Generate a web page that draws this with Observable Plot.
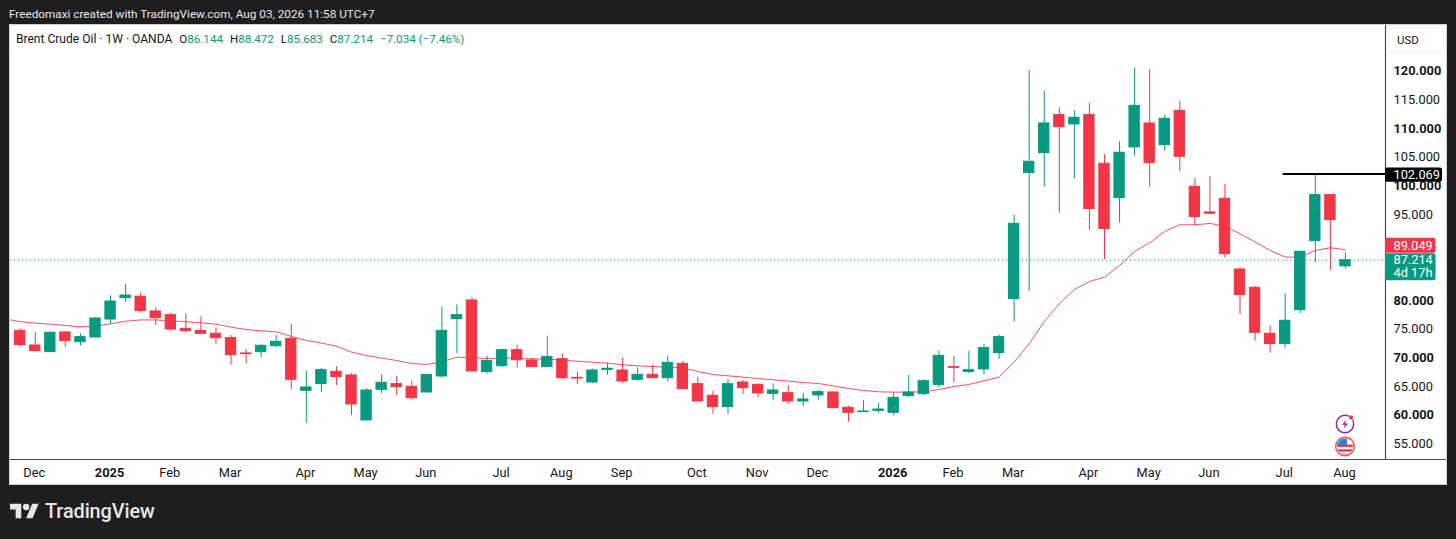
<!DOCTYPE html>
<html>
<head>
<meta charset="utf-8">
<script src="https://cdn.jsdelivr.net/npm/d3@7"></script>
<script src="https://cdn.jsdelivr.net/npm/@observablehq/plot@0.6"></script>
<style>
html,body{margin:0;padding:0;background:#1e1e1e;width:1456px;height:539px;overflow:hidden;font-family:Roboto,"Liberation Sans",sans-serif}
.abs{position:absolute;white-space:nowrap}
#panel{left:9px;top:24px;width:1436px;height:459px;background:#fff;border:1px solid #d0d0d0}
#chart{left:0;top:0}
#credit{left:9px;top:7px;color:#e8e8e8;font-size:11.75px;line-height:14px}
#legend{left:16px;top:32px;color:#131722;font-size:12.05px;line-height:14px}
#legend b{font-weight:400;color:#089981}
#legend span{margin-left:7px;font-size:11.6px}
#usdbox{left:1388px;top:28px;width:54px;height:23px;border:1px solid #f0f0f0;border-radius:4px}
#usd{left:1397px;top:33px;color:#131722;font-size:11.5px;line-height:14px}
#brand{left:45px;top:500px;color:#e6e6e6;font-size:19.9px;line-height:24px;font-weight:500;letter-spacing:-.1px}
svg.logo{position:absolute;left:10px;top:503px}
svg.icon{position:absolute;left:1331px;top:412px}
</style>
</head>
<body>
<div id="panel" class="abs"></div>
<div id="usdbox" class="abs"></div>
<div id="chart" class="abs"></div>
<div id="credit" class="abs">Freedomaxi created with TradingView.com, Aug 03, 2026 11:58 UTC+7</div>
<div id="legend" class="abs">Brent Crude Oil · 1W · OANDA<span>O<b>86.144</b></span><span>H<b>88.472</b></span><span>L<b>85.683</b></span><span>C<b>87.214</b></span><span><b>−7.034 (−7.46%)</b></span></div>
<div id="usd" class="abs">USD</div>
<svg class="logo" width="29" height="16" viewBox="0 4 36 18"><path fill="#e6e6e6" d="M14 22H7V11H0V4h14v18zM28 22h-8l7.5-18h8L28 22z"/><circle fill="#e6e6e6" cx="20" cy="8" r="4"/></svg>
<div id="brand" class="abs">TradingView</div>
<svg class="icon" width="28" height="48" viewBox="0 0 28 48">
  <circle cx="14" cy="12" r="8.7" fill="#fff" stroke="#8e24aa" stroke-width="1.4"/>
  <path d="M15.5 7.5L11 12.8h3l-1.5 4 4.6-5.4h-3z" fill="#8e24aa"/>
  <circle cx="20" cy="5.5" r="2.4" fill="#f23645" stroke="#fff" stroke-width=".6"/>
  <clipPath id="fl"><circle cx="14" cy="34.5" r="8"/></clipPath>
  <g clip-path="url(#fl)">
    <rect x="5" y="26" width="18" height="18" fill="#fff"/>
    <rect x="5" y="32.5" width="18" height="2.4" fill="#f23645"/>
    <rect x="5" y="37.3" width="18" height="2.4" fill="#f23645"/>
    <rect x="5" y="41.5" width="18" height="2.4" fill="#f23645"/>
    <rect x="5" y="26" width="11" height="7" fill="#2f7fd8"/>
  </g>
  <circle cx="14" cy="34.5" r="9.3" fill="none" stroke="#e2505c" stroke-width="1.4"/>
</svg>
<script>
// Weekly candles, first bar Monday 2024-11-25, last bar Monday 2026-08-03
const firstWeek = new Date(Date.UTC(2024, 10, 25));
const opens = [74.9,72.34,71.18,74.61,72.92,73.74,76.87,80.6,80.83,78.27,77.63,75.25,74.9,74.38,73.62,70.95,71.18,72.22,73.5,64.43,65.6,67.75,67.11,59.26,64.61,65.6,65.13,64.14,66.93,76.93,80.19,67.69,
  68.73,71.52,69.72,68.56,69.95,66.7,65.88,68.09,67.98,66.35,67.22,66.64,69.14,65.59,63.56,61.58,65.88,65.48,63.91,64.02,62.57,63.62,64.14,61.47,60.71,60.94,60.59,63.5,63.85,65.42,68.56,67.7,
  68.16,71.01,80.43,102.41,105.9,112.52,110.9,112.52,104.04,98.05,106.89,111.07,107.29,113.28,100.03,95.55,97.93,85.6,82.4,74.38,72.58,78.51,90.55,98.57,86.144];
const closes = [72.4,71.35,74.55,73.1,73.79,77.05,80.01,81.06,78.33,77.1,75.13,74.84,74.38,73.62,70.65,70.83,72.28,72.98,66.35,65.01,68.04,66.82,62.05,64.49,65.83,65.07,63.15,67.22,74.9,77.63,67.81,69.66,
  71.52,69.78,68.56,70.36,66.64,66.58,67.98,68.27,66.06,67.22,66.64,69.31,64.72,62.57,61.58,65.59,64.9,63.97,64.49,62.57,62.92,64.2,61.41,60.59,60.83,61.17,63.21,64.14,66.12,70.53,68.44,68.04,
  71.88,73.8,93.57,104.39,111.07,110.43,112.06,96.13,92.64,105.96,114.15,104.15,111.89,105.26,94.73,95.32,88.28,81.13,74.56,72.58,76.65,88.68,98.57,94.21,87.214];
const highs = [75.25,74.6,74.72,74.72,74.37,77.17,81,82.98,81.47,78.91,77.98,77.86,77.34,75.42,74.08,71.58,72.57,74.08,76,67.86,68.33,68.62,67.4,64.78,67.22,66.93,66.12,67.28,78.97,79.43,80.65,70.42,
  71.76,72.34,70.07,73.96,70.88,67.74,68.21,69.26,70.13,68.44,68.97,70.48,69.55,66.81,64.31,66.41,66.23,65.65,65.65,65.3,64.02,64.49,64.31,61.75,62.69,62.22,64.14,67.1,66.35,71.41,70.42,71.3,
  72.46,74.15,95.08,120.32,116.71,113.8,113.28,114.62,105.6,107.87,120.66,120.43,112.53,114.91,101.48,101.77,100.43,85.83,82.64,75.72,81.36,88.8,102.069,98.57,88.472];
const lows = [72.05,71.35,71.18,72.05,72.22,73.74,76.12,79.9,78.04,75.77,74.84,74.55,74.38,72.57,68.91,69.08,70.19,71.93,64.61,58.79,64.14,65.36,60.13,59.26,63.91,63.62,62.75,64.14,66.64,70.94,67.69,67.4,
  68.44,68.44,68.56,68.56,66.35,65.53,65.71,67.16,65.71,66.06,66.64,66,64.6,62.57,60.36,60.36,63.79,63.27,62.69,62.05,61.7,62.8,61.29,58.97,60.71,60.48,60.13,63.21,63.56,64.95,65.88,67.4,
  67.17,69.9,76.42,81.76,99.97,95.43,101.42,92.41,87.29,93.69,105.37,99.97,106.25,102.7,93.11,95.2,87.58,77.75,73.1,71.01,71.88,77.87,86.77,85.43,85.683];
// Moving average: one lead-in value at the left edge, then one per bar
const maLead = 76.8;
const maValues = [76.5,76.24,76.06,75.83,75.6,75.7,76.12,76.58,76.8,76.8,76.64,76.5,76.3,76.06,75.54,75.13,74.9,74.72,73.91,73.21,72.75,72.22,71.18,70.6,70.13,69.72,69.2,69.03,69.49,70.3,70.19,
  70.07,70.13,70.07,70,69.95,69.78,69.6,69.43,69.26,68.97,68.79,68.67,68.56,68.44,67.8,67.28,67.05,66.81,66.58,66.35,66.12,65.88,65.71,65.3,64.84,64.49,64.26,64.2,64.2,64.26,64.66,65.19,
  65.54,66.18,66.82,69.44,72.64,76.53,79.61,82.11,83.51,84.26,86.3,88.74,90.26,92.23,93.4,93.4,93.63,93.17,91.83,90.37,88.92,87.76,87.76,88.92,89.39,89.049];
const yTicksBold = [60,70,80,100,110,120];
const yTicksPlain = [55,65,75,95,105,115];
const xTickDates = ["2024-12-02","2025-01-06","2025-02-03","2025-03-03","2025-04-07","2025-05-05","2025-06-02","2025-07-07","2025-08-04","2025-09-01","2025-10-06","2025-11-03","2025-12-01","2026-01-05","2026-02-02","2026-03-02","2026-04-06","2026-05-04","2026-06-01","2026-07-06","2026-08-03"];
const xTickLabels = ["Dec","2025","Feb","Mar","Apr","May","Jun","Jul","Aug","Sep","Oct","Nov","Dec","2026","Feb","Mar","Apr","May","Jun","Jul","Aug"];
const lastClose = 87.214, lastMA = 89.049, levelPrice = 102.069, countdown = "4d 17h";
const levelStart = "2026-07-05";
const UP = "#089981", DOWN = "#f23645";

const DAY = 864e5;
const dates = opens.map((_, i) => new Date(+firstWeek + i * 7 * DAY));
const bars = dates.map((date, i) => ({date, open: opens[i], close: closes[i], high: highs[i], low: lows[i]}));
const up = bars.filter(d => d.close >= d.open), down = bars.filter(d => d.close < d.open);
const maData = [{date: new Date(+firstWeek - 4.5 * DAY), v: maLead}, ...maValues.map((v, i) => ({date: dates[i], v}))];
const xStart = new Date(+firstWeek - 0.644 * 7 * DAY), xEnd = new Date(+firstWeek + 90.66 * 7 * DAY);
const halfBody = 2.4 * DAY;
const offset = d => new Date(+xEnd + d * DAY);
const ticks = xTickDates.map((s, i) => ({date: new Date(s), label: xTickLabels[i], bold: /^\d/.test(xTickLabels[i])}));
const tagFont = {fontSize: 12.8, textAnchor: "start", letterSpacing: ".2px"};
const FONT = 12.8;

function candles(data, color) {
  return [
    Plot.ruleX(data, {x: "date", y1: "low", y2: "high", stroke: color, strokeWidth: 1}),
    Plot.rect(data, {x1: d => new Date(+d.date - halfBody), x2: d => new Date(+d.date + halfBody), y1: "open", y2: "close", fill: color, stroke: color, strokeWidth: 1})
  ];
}

const chart = Plot.plot({
  width: 1456, height: 539,
  marginLeft: 10, marginRight: 71, marginTop: 25, marginBottom: 80,
  style: {background: "transparent", fontFamily: "Roboto, sans-serif"},
  x: {type: "utc", domain: [xStart, xEnd], axis: null},
  y: {type: "linear", domain: [52.45, 128.16]},
  marks: [
    Plot.ruleY([lastClose], {stroke: UP, strokeWidth: 1, strokeDasharray: "1 3"}),
    Plot.line(maData, {x: "date", y: "v", stroke: DOWN, strokeWidth: 1, strokeOpacity: .85}),
    ...candles(up, UP),
    ...candles(down, DOWN),
    Plot.ruleX([xEnd], {stroke: "#4a4a4a", strokeWidth: 1.2, y1: 52.45, y2: 128.16}),
    Plot.ruleX([xEnd], {stroke: "#4a4a4a", strokeWidth: 1.2, y1: 52.45, y2: 52.45, dy: 25}),
    Plot.ruleY([52.45], {x1: xStart, x2: offset(28.3), stroke: "#4a4a4a", strokeWidth: 1.2, clip: false}),
    Plot.axisY(yTicksPlain, {anchor: "right", tickSize: 0, tickPadding: 8, tickFormat: d => d.toFixed(3), fontSize: FONT, fill: "#131722", label: null, dy: -1}),
    Plot.axisY(yTicksBold, {anchor: "right", tickSize: 0, tickPadding: 8, tickFormat: d => d.toFixed(3), fontSize: FONT, fontWeight: 700, fill: "#131722", label: null, dy: -1}),
    Plot.text(ticks.filter(d => !d.bold), {x: "date", y: 52.45, text: "label", dy: 13, dx: -1, fontSize: FONT, fill: "#131722"}),
    Plot.text(ticks.filter(d => d.bold), {x: "date", y: 52.45, text: "label", dy: 13, dx: -1, fontSize: FONT, fontWeight: 700, fill: "#131722"}),
    // black level line and its tag
    Plot.ruleY([levelPrice], {x1: new Date(levelStart), x2: xEnd, stroke: "#000", strokeWidth: 2, dy: -1}),
    Plot.rect([levelPrice], {x1: xEnd, x2: offset(26.5), y1: d => d + 1.25, y2: d => d - 1.25, fill: "#000", rx: 2}),
    Plot.text([levelPrice], {x: offset(3.7), y: d => d, text: d => d.toFixed(3), fill: "#fff", ...tagFont}),
    // moving-average tag
    Plot.rect([lastMA], {x1: xEnd, x2: offset(23.5), y1: d => d + 2, y2: d => d - .6, fill: DOWN, rx: 2}),
    Plot.text([lastMA], {x: offset(3.7), y: d => d + .75, text: d => d.toFixed(3), fill: "#fff", ...tagFont}),
    // last price tag
    Plot.rect([lastClose], {x1: xEnd, x2: offset(23.5), y1: d => d + 1.15, y2: d => d - 3.6, fill: UP, rx: 2}),
    Plot.text([lastClose], {x: offset(3.7), y: d => d, text: d => d.toFixed(3), fill: "#fff", ...tagFont}),
    Plot.text([lastClose], {x: offset(3.7), y: d => d - 2.2, text: () => countdown, fill: "#fff", ...tagFont})
  ]
});
document.getElementById("chart").append(chart);
</script>
</body>
</html>
